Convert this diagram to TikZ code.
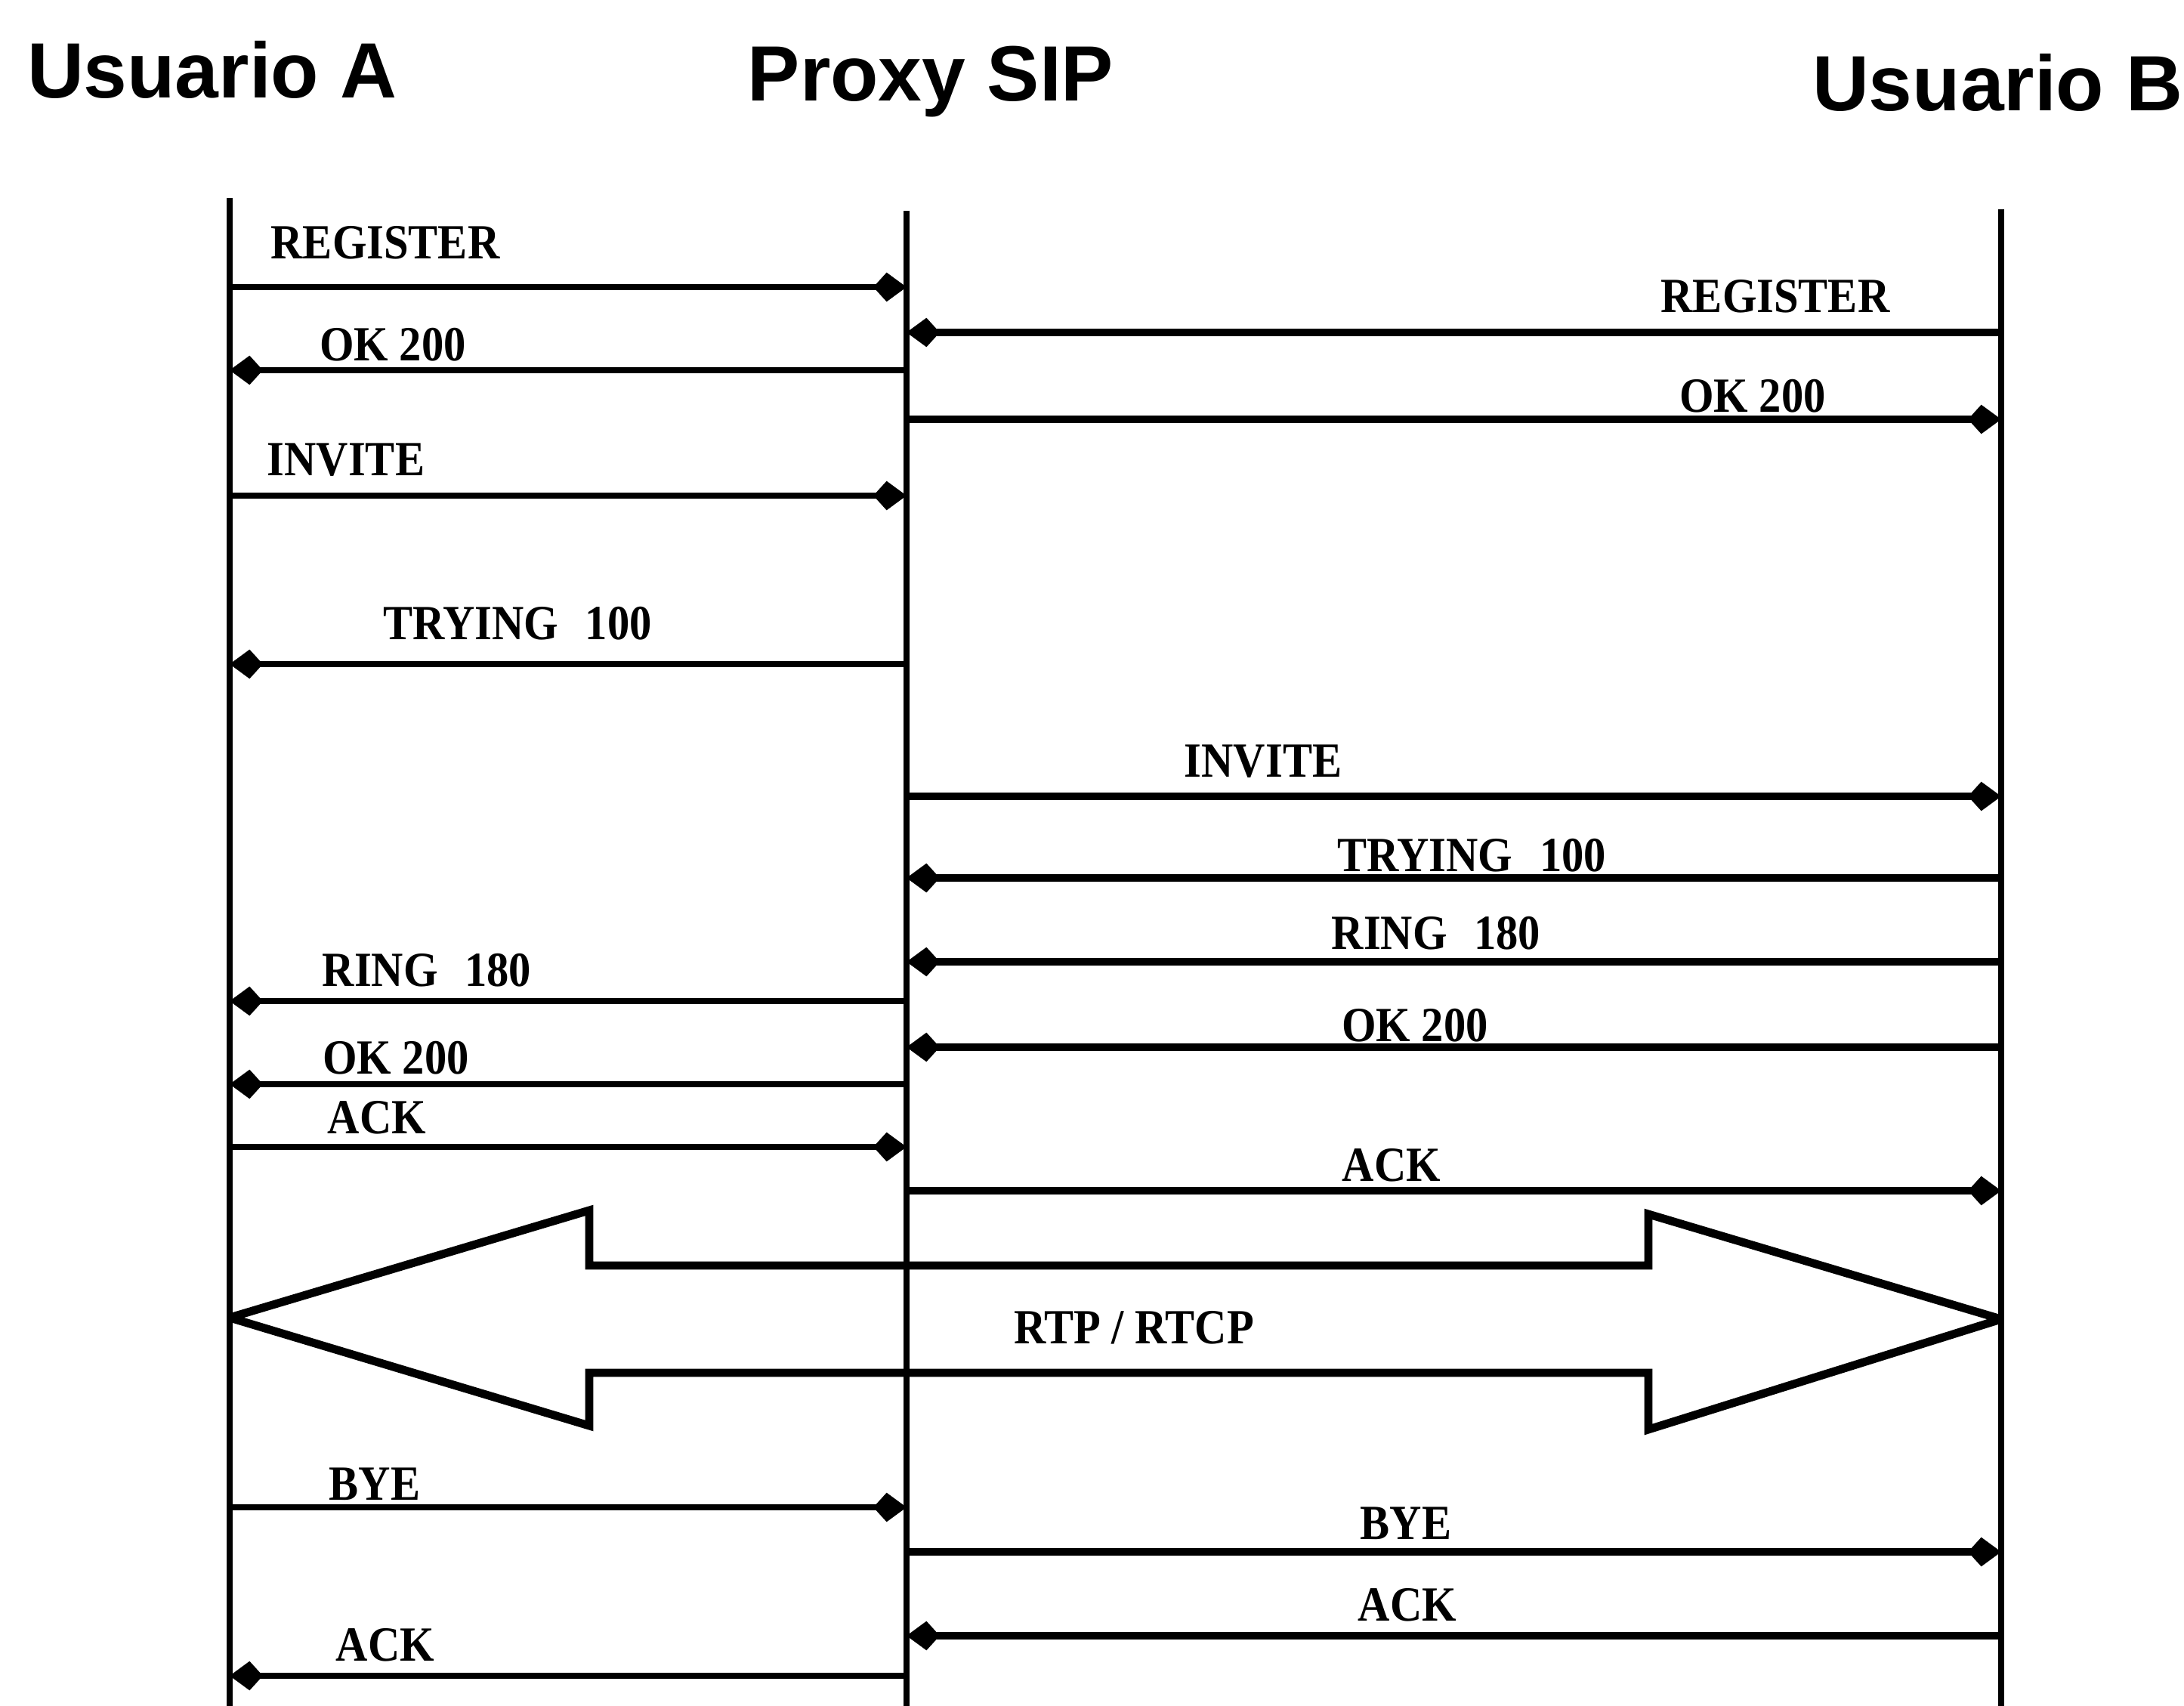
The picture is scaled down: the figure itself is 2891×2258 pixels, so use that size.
\documentclass[tikz,border=0pt]{standalone}
\usepackage{fontspec}
\newfontfamily\headfont{Liberation Sans}
\newfontfamily\lblfont[FakeStretch=0.9]{Liberation Serif}
\usetikzlibrary{arrows.meta}
\newcommand\sipgap{\hspace{0.55em}}
\begin{document}
\begin{tikzpicture}[x=0.01cm, y=-0.01cm,
  lifeline/.style={line width=2.3pt},
  msgl/.style={line width=2.1pt, -{Kite[length=12.5pt,width=11pt,inset=5pt]}},
  msgr/.style={msgl, line width=2.7pt},
  head/.style={font=\headfont\bfseries\fontsize{29.5}{32}\selectfont, inner sep=0pt, anchor=base},
  lbl/.style={font=\lblfont\bfseries\fontsize{18.5}{20}\selectfont, inner sep=0pt, anchor=base},
  media/.style={line width=3.1pt, line join=miter, miter limit=2}]

\useasboundingbox (0,0) rectangle (2891,2258);

% participants
\node[head] (hA) at (281,130) {Usuario A};
\node[head] (hP) at (1232,134) {Proxy SIP};
\node[head] (hB) at (2644,147) {Usuario B};

% lifelines
\coordinate (tA) at (304,262);  \coordinate (bA) at (304,2258);
\coordinate (tP) at (1200,279); \coordinate (bP) at (1200,2258);
\coordinate (tB) at (2649,277); \coordinate (bB) at (2649,2258);
\draw[lifeline] (tA) -- (bA);
\draw[lifeline] (tP) -- (bP);
\draw[lifeline] (tB) -- (bB);

% registration
\draw[msgl] (tA |- 0,380) -- (tP |- 0,380);
\node[lbl] (l1) at (510,343) {REGISTER};
\draw[msgr] (tB |- 0,440) -- (tP |- 0,440);
\node[lbl] (l2) at (2350,413) {REGISTER};
\draw[msgl] (tP |- 0,490) -- (tA |- 0,490);
\node[lbl] (l3) at (520,478) {OK 200};
\draw[msgr] (tP |- 0,555) -- (tB |- 0,555);
\node[lbl] (l4) at (2320,545) {OK 200};

% call set-up
\draw[msgl] (tA |- 0,656) -- (tP |- 0,656);
\node[lbl] (l5) at (458,629) {INVITE};
\draw[msgl] (tP |- 0,879) -- (tA |- 0,879);
\node[lbl] (l6) at (685,846) {TRYING\sipgap 100};
\draw[msgr] (tP |- 0,1054) -- (tB |- 0,1054);
\node[lbl] (l7) at (1672,1028) {INVITE};
\draw[msgr] (tB |- 0,1162) -- (tP |- 0,1162);
\node[lbl] (l8) at (1948,1153) {TRYING\sipgap 100};
\draw[msgr] (tB |- 0,1273) -- (tP |- 0,1273);
\node[lbl] (l9) at (1901,1256) {RING\sipgap 180};
\draw[msgl] (tP |- 0,1325) -- (tA |- 0,1325);
\node[lbl] (l10) at (565,1305) {RING\sipgap 180};
\draw[msgr] (tB |- 0,1386) -- (tP |- 0,1386);
\node[lbl] (l11) at (1873,1378) {OK 200};
\draw[msgl] (tP |- 0,1435) -- (tA |- 0,1435);
\node[lbl] (l12) at (524,1421) {OK 200};
\draw[msgl] (tA |- 0,1518) -- (tP |- 0,1518);
\node[lbl] (l13) at (499,1500) {ACK};
\draw[msgr] (tP |- 0,1576) -- (tB |- 0,1576);
\node[lbl] (l14) at (1842,1563) {ACK};

% media stream
\draw[media] (tA |- 0,1744) -- (780,1602) -- (780,1675) -- (2182,1675)
  -- (2182,1607) -- (tB |- 0,1746) -- (2182,1892) -- (2182,1817)
  -- (780,1817) -- (780,1887) -- cycle;
\node[lbl] (rtp) at (1501,1778) {RTP / RTCP};

% tear-down
\draw[msgl] (tA |- 0,1995) -- (tP |- 0,1995);
\node[lbl] (l16) at (496,1985) {BYE};
\draw[msgr] (tP |- 0,2054) -- (tB |- 0,2054);
\node[lbl] (l17) at (1861,2037) {BYE};
\draw[msgr] (tB |- 0,2165) -- (tP |- 0,2165);
\node[lbl] (l18) at (1863,2145) {ACK};
\draw[msgl] (tP |- 0,2218) -- (tA |- 0,2218);
\node[lbl] (l19) at (510,2198) {ACK};
\end{tikzpicture}
\end{document}
